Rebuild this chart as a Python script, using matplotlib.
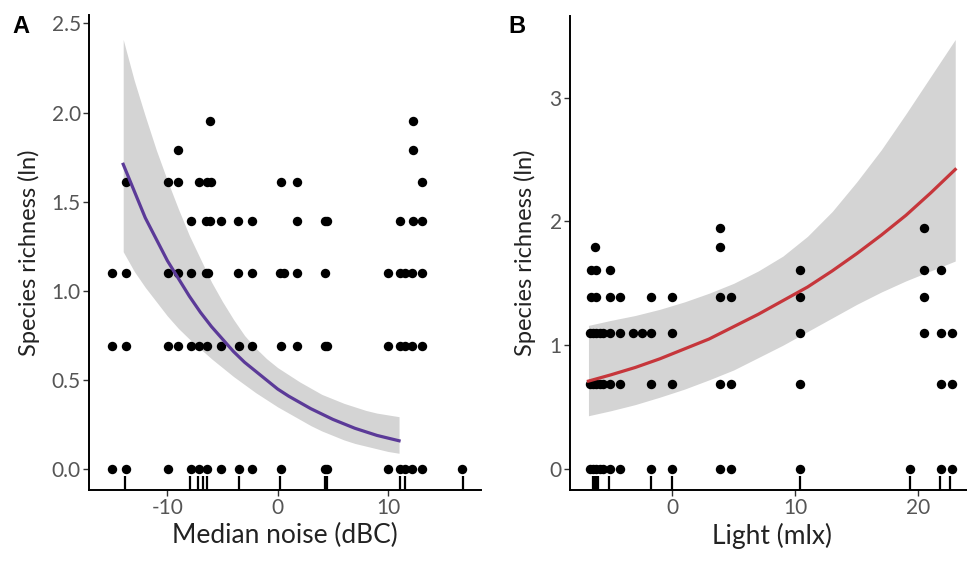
import matplotlib
matplotlib.use("Agg")
import matplotlib.pyplot as plt
import matplotlib.transforms as mtransforms

plt.rcParams['font.family'] = ['Lato', 'DejaVu Sans']
plt.rcParams['axes.unicode_minus'] = False

# ---- panel A: median noise ----
noise_y0 = [-15.05, -13.75, -9.97, -7.86, -7.1, -6.44, -5.14, -3.5, -2.3, 0.27,
            4.32, 4.47, 9.97, 11.09, 11.54, 12.15, 13.1, 16.7]
noise_y069 = [-15.05, -13.75, -9.97, -9.07, -7.86, -7.1, -6.44, -5.14, -3.5, -2.3,
              0.27, 1.78, 4.32, 4.47, 9.97, 11.09, 11.54, 12.15, 13.1]
noise_y110 = [-15.05, -13.75, -9.97, -9.0, -7.86, -6.5, -6.3, -3.6, -2.36, 0.2, 0.6,
              1.75, 4.32, 9.97, 11.09, 11.54, 12.15, 13.1]
noise_y139 = [-7.86, -6.5, -6.14, -5.14, -3.57, -2.36, 1.78, 4.32, 4.47, 11.09, 12.3, 13.1]
noise_y161 = [-13.75, -9.97, -9.07, -7.1, -6.44, -6.07, 0.3, 1.75, 13.1]
noise_y179 = [-9.07, 12.3]
noise_y195 = [-6.14, 12.3]
noise_rug = [-13.8, -7.95, -7.2, -6.8, -6.4, -3.55, 0.2, 4.3, 4.45, 11.1, 11.5, 16.8]

noise_fit_x = list(range(-14, 12))
noise_fit = [1.71, 1.56, 1.41, 1.29, 1.17, 1.07, 0.97, 0.88, 0.80, 0.73, 0.66, 0.60, 0.55,
             0.50, 0.45, 0.41, 0.375, 0.34, 0.31, 0.28, 0.255, 0.23, 0.21, 0.19, 0.175, 0.16]
noise_lo = [1.22, 1.11, 1.02, 0.94, 0.86, 0.79, 0.73, 0.675, 0.62, 0.57, 0.52, 0.475, 0.43,
            0.39, 0.35, 0.315, 0.28, 0.245, 0.215, 0.19, 0.165, 0.145, 0.13, 0.115, 0.10, 0.09]
noise_hi = [2.41, 2.18, 1.98, 1.79, 1.62, 1.46, 1.31, 1.18, 1.05, 0.94, 0.84, 0.75, 0.68,
            0.62, 0.57, 0.53, 0.49, 0.455, 0.42, 0.395, 0.37, 0.35, 0.33, 0.315, 0.305, 0.295]

# ---- panel B: light ----
light_y0 = [-6.69, -6.42, -6.15, -5.88, -5.61, -5.07, -4.25, -1.73, 0.0, 3.88, 4.75,
            10.38, 19.32, 21.85, 22.71]
light_y069 = [-6.69, -6.42, -6.15, -5.88, -5.61, -5.07, -4.25, -1.73, 0.0, 3.88, 4.75,
              10.38, 21.85, 22.71]
light_y110 = [-6.69, -6.42, -6.15, -5.88, -5.61, -5.07, -4.25, -3.17, -2.49, -1.73, 0.0,
              10.38, 20.49, 21.85, 22.71]
light_y139 = [-6.56, -6.15, -5.07, -4.25, -1.73, 0.0, 3.88, 4.75, 10.38, 20.49]
light_y161 = [-6.56, -6.15, -5.07, 10.38, 20.49, 21.85]
light_y179 = [-6.28, 3.9]
light_y195 = [3.9, 20.49]
light_rug = [-6.4, -6.3, -6.1, -6.0, -5.1, -1.75, 0.0, 10.4, 19.3, 21.8, 22.6]

light_fit_x = [-6.8, -5, -3, -1, 1, 3, 5, 7, 9, 11, 13, 15, 17, 19, 21, 23]
light_fit = [0.71, 0.76, 0.82, 0.89, 0.97, 1.05, 1.15, 1.25, 1.36, 1.47, 1.60, 1.74, 1.89,
             2.05, 2.23, 2.42]
light_lo = [0.43, 0.47, 0.52, 0.58, 0.645, 0.72, 0.80, 0.90, 1.00, 1.11, 1.22, 1.33, 1.43,
            1.52, 1.60, 1.68]
light_hi = [1.16, 1.20, 1.24, 1.29, 1.35, 1.42, 1.50, 1.60, 1.72, 1.88, 2.08, 2.32, 2.58,
            2.87, 3.17, 3.47]

levels = [0.0, 0.69, 1.10, 1.39, 1.61, 1.79, 1.95]


def draw_panel(ax, rows, rug, fx, fy, lo, hi, color):
    ax.fill_between(fx, lo, hi, color='#d4d4d4', lw=0, zorder=1)
    for lev, xs in zip(levels, rows):
        ax.scatter(xs, [lev] * len(xs), s=46, color='black', lw=0, zorder=3)
    trans = mtransforms.blended_transform_factory(ax.transData, ax.transAxes)
    for x in rug:
        ax.plot([x, x], [0, 0.03], color='black', lw=1.6, transform=trans,
                zorder=2, solid_capstyle='butt')
    ax.plot(fx, fy, color=color, lw=2.3, zorder=4)
    for s in ['top', 'right']:
        ax.spines[s].set_visible(False)
    for s in ['left', 'bottom']:
        ax.spines[s].set_linewidth(1.4)
    ax.tick_params(length=4, width=1.0, color='#333333', labelcolor='#555555',
                   labelsize=15, pad=2)


fig = plt.figure(figsize=(9.67, 5.62), dpi=100)

axA = fig.add_axes([89 / 967, 1 - 490 / 562, (480.7 - 89) / 967, 475 / 562])
draw_panel(axA, [noise_y0, noise_y069, noise_y110, noise_y139, noise_y161, noise_y179, noise_y195],
           noise_rug, noise_fit_x, noise_fit, noise_lo, noise_hi, '#5b3a98')
axA.set_xlim(-17.1, 18.4)
axA.set_ylim(-0.116, 2.547)
axA.set_xticks([-10, 0, 10])
axA.set_yticks([0, 0.5, 1.0, 1.5, 2.0, 2.5])
axA.set_yticklabels(['0.0', '0.5', '1.0', '1.5', '2.0', '2.5'])
axA.set_xlabel('Median noise (dBC)', fontsize=19, color='#222222', labelpad=3)
axA.set_ylabel('Species richness (ln)', fontsize=17, color='#222222', labelpad=8)

axB = fig.add_axes([570 / 967, 1 - 490 / 562, (973.7 - 570) / 967, 474 / 562])
draw_panel(axB, [light_y0, light_y069, light_y110, light_y139, light_y161, light_y179, light_y195],
           light_rug, light_fit_x, light_fit, light_lo, light_hi, '#c6363b')
axB.set_xlim(-8.3, 24.5)
axB.set_ylim(-0.17, 3.66)
axB.set_xticks([0, 10, 20])
axB.set_yticks([0, 1, 2, 3])
axB.set_xlabel('Light (mlx)', fontsize=19, color='#222222', labelpad=3)
axB.set_ylabel('Species richness (ln)', fontsize=17, color='#222222', labelpad=10)

fig.text(12 / 967, 1 - 33 / 562, 'A', fontsize=17, fontweight='bold',
         family=['Liberation Sans', 'DejaVu Sans'])
fig.text(508 / 967, 1 - 33 / 562, 'B', fontsize=17, fontweight='bold',
         family=['Liberation Sans', 'DejaVu Sans'])

fig.savefig('out.png', dpi=100)
